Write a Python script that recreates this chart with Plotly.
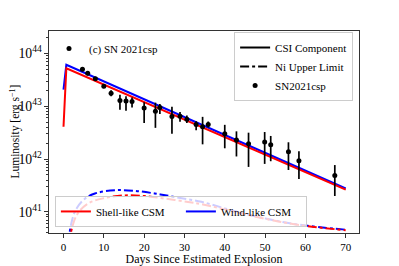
import plotly.graph_objects as go

# --- observed data (SN2021csp) ---
days = [4.7, 6.0, 7.9, 10.0, 11.8, 14.0, 15.5, 17.0, 20.0, 22.8, 23.9, 26.9, 28.9,
        30.6, 32.9, 34.5, 35.9, 40.0, 42.9, 45.9, 49.9, 51.4, 55.8, 58.4, 67.3]
lum_1e42 = [50, 42, 33, 24, 17.6, 12.9, 12.6, 12.3, 9.3, 8.0, 9.5, 6.4, 6.5,
            5.7, 4.5, 4.1, 4.5, 3.0, 2.3, 1.96, 2.1, 1.87, 1.38, 0.93, 0.49]
err_up_1e42 = [4.6, 3.8, 2.2, 2.1, 2.5, 3.7, 2.8, 2.4, 2.6, 3.7, 1.5, 3.4, 1.25,
               1.0, 0.7, 2.2, 0.64, 1.45, 1.05, 1.2, 1.15, 0.87, 0.7, 0.47, 0.28]
err_dn_1e42 = [4.2, 3.6, 2.1, 2.0, 2.2, 4.3, 4.4, 2.8, 4.5, 4.1, 2.4, 3.4, 1.4,
               0.9, 1.0, 2.2, 0.55, 1.4, 1.18, 1.25, 1.29, 0.96, 0.76, 0.51, 0.29]

# --- CSI components ---
csi_days = [0, 0.7, 70]
csi_wind = [2.06e43, 6.1e43, 2.77e41]
csi_shell = [4.1e42, 5.25e43, 2.63e41]

# --- Ni upper limits ---
ni_days_wind = [1.1, 2.8, 5.3, 7.8, 12.7, 17.7, 22.6, 27.6, 34.2, 42.1, 50.4, 58.6, 70]
ni_wind = [2.5e40, 1.0e41, 1.78e41, 2.23e41, 2.57e41, 2.5e41, 2.23e41, 1.91e41,
           1.55e41, 1.05e41, 7.4e40, 5.7e40, 4.6e40]
ni_days_shell = [1.3, 3.2, 6.1, 10.2, 15.2, 20.2, 25.2, 30.9, 34.6, 42.1, 50.4, 58.6, 70]
ni_shell = [2.5e40, 8.5e40, 1.44e41, 1.83e41, 2.05e41, 1.99e41, 1.78e41, 1.54e41,
            1.38e41, 1.02e41, 7.3e40, 5.6e40, 4.5e40]

x_ticks = [0, 10, 20, 30, 40, 50, 60, 70]

lum = [v * 1e42 for v in lum_1e42]
eu = [v * 1e42 for v in err_up_1e42]
ed = [v * 1e42 for v in err_dn_1e42]

FONT = "Liberation Serif"
BLUE = "#0000ff"
RED = "#ff0000"

fig = go.Figure()

fig.add_trace(go.Scatter(x=csi_days, y=csi_wind, mode="lines",
                         line=dict(color=BLUE, width=2), showlegend=False))
fig.add_trace(go.Scatter(x=csi_days, y=csi_shell, mode="lines",
                         line=dict(color=RED, width=2), showlegend=False))
fig.add_trace(go.Scatter(x=ni_days_wind, y=ni_wind, mode="lines", line_shape="spline",
                         line=dict(color=BLUE, width=2, dash="dashdot"), showlegend=False))
fig.add_trace(go.Scatter(x=ni_days_shell, y=ni_shell, mode="lines", line_shape="spline",
                         line=dict(color=RED, width=2, dash="dashdot"), showlegend=False))
fig.add_trace(go.Scatter(x=days, y=lum, mode="markers",
                         marker=dict(color="black", size=5),
                         error_y=dict(type="data", symmetric=False, array=eu, arrayminus=ed,
                                      color="black", thickness=1.7, width=0),
                         showlegend=False))

fig.add_trace(go.Scatter(x=[None], y=[None], mode="lines", name="CSI Component",
                         line=dict(color="black", width=2), legend="legend"))
fig.add_trace(go.Scatter(x=[None], y=[None], mode="lines", name="Ni Upper Limit",
                         line=dict(color="black", width=2, dash="dashdot"), legend="legend"))
fig.add_trace(go.Scatter(x=[None], y=[None], mode="markers", name="SN2021csp",
                         marker=dict(color="black", size=5), legend="legend"))
fig.add_trace(go.Scatter(x=[None], y=[None], mode="lines", name="Shell-like CSM",
                         line=dict(color=RED, width=2), legend="legend2"))
fig.add_trace(go.Scatter(x=[None], y=[None], mode="lines", name="Wind-like CSM",
                         line=dict(color=BLUE, width=2), legend="legend2"))
fig.add_trace(go.Scatter(x=[None], y=[None], mode="markers", name="(c) SN 2021csp",
                         marker=dict(color="black", size=5), legend="legend3"))

axis_common = dict(showline=True, linecolor="#333", linewidth=1, mirror=True,
                   ticks="outside", ticklen=4, tickwidth=1, tickcolor="#333",
                   showgrid=False, zeroline=False, automargin=False,
                   tickfont=dict(family=FONT, size=11, color="black"))

LEGFONT = dict(family=FONT, size=11, color="black")

# the page body adds an 8px offset, so the figure is sized to fit inside the window
fig.update_layout(
    width=391, height=258,
    margin=dict(l=41, r=40, t=23, b=33),
    paper_bgcolor="white", plot_bgcolor="white",
    font=dict(family=FONT, size=12, color="black"),
    xaxis=dict(range=[-3.6, 73.3], tickvals=x_ticks,
               title=dict(text="Days Since Estimated Explosion", font=dict(family=FONT, size=12)),
               **axis_common),
    yaxis=dict(type="log", range=[40.6, 44.425], dtick=1, exponentformat="power",
               minor=dict(ticks="outside", ticklen=2, dtick="D1", tickcolor="#333"),
               **axis_common),
    legend=dict(x=0.981, xanchor="right", y=0.995, yanchor="top",
                bgcolor="rgba(255,255,255,0.8)", bordercolor="#ccc", borderwidth=1,
                font=LEGFONT, tracegroupgap=0, itemwidth=30),
    legend2=dict(x=0.019, xanchor="left", y=0.03, yanchor="bottom", orientation="h",
                 bgcolor="rgba(255,255,255,0.8)", bordercolor="#ccc", borderwidth=1,
                 font=LEGFONT, itemwidth=30, entrywidth=80),
    legend3=dict(x=-0.0, xanchor="left", y=0.985, yanchor="top",
                 bgcolor="rgba(0,0,0,0)", borderwidth=0,
                 font=LEGFONT, itemwidth=30),
    annotations=[dict(text="Luminosity [erg s<sup>−1</sup>]", xref="paper", yref="paper",
                      x=-0.111, y=0.5, xanchor="center", yanchor="middle", textangle=-90,
                      showarrow=False, font=dict(family=FONT, size=11.5, color="black"))],
)

fig.write_html("out.html")
